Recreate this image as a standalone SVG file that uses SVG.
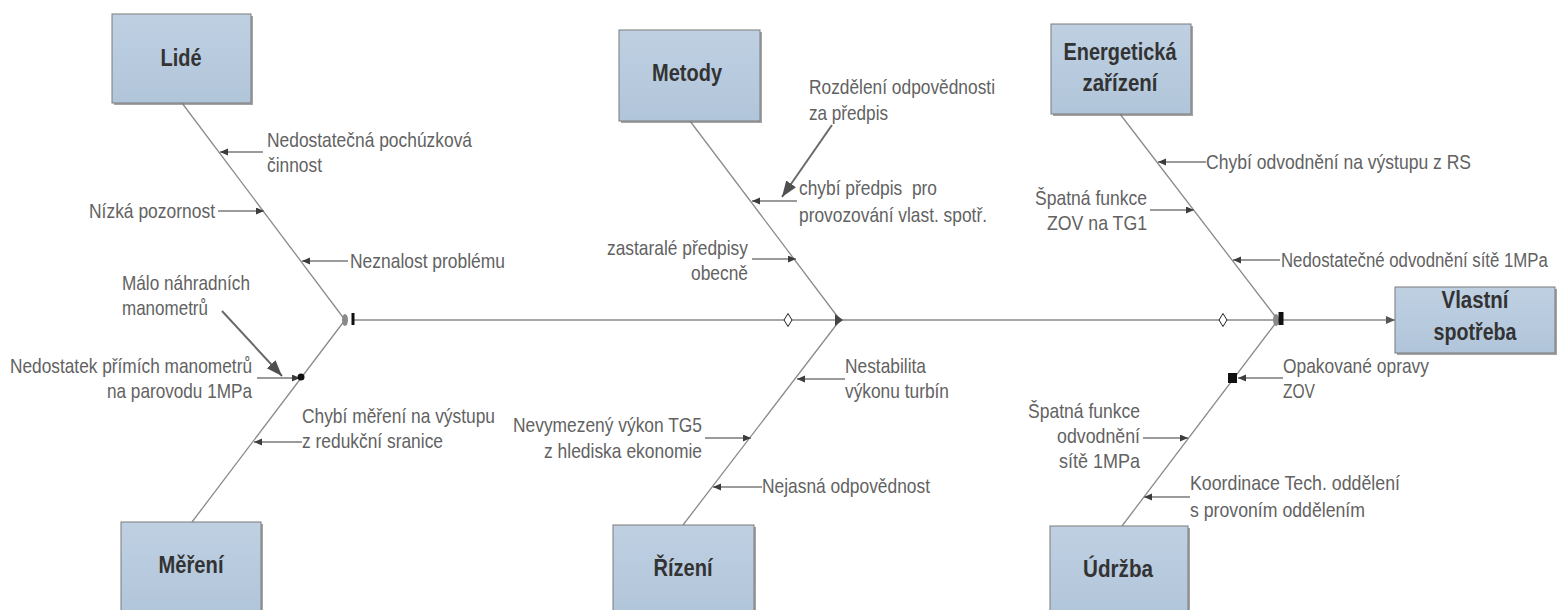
<svg xmlns="http://www.w3.org/2000/svg" width="1563" height="610" viewBox="0 0 1563 610">
<defs>
<linearGradient id="bg" x1="0" y1="0" x2="0" y2="1">
<stop offset="0" stop-color="#bfd0e2"/>
<stop offset="1" stop-color="#b1c5da"/>
</linearGradient>
<marker id="ah" markerUnits="userSpaceOnUse" markerWidth="9" markerHeight="8" refX="8" refY="3.5" orient="auto">
<path d="M0,0 L8,3.5 L0,7 z" fill="#3c3c3c"/>
</marker>
<marker id="big" markerUnits="userSpaceOnUse" markerWidth="18" markerHeight="14" refX="16" refY="6" orient="auto">
<path d="M0,0 L16,6 L0,12 z" fill="#505050"/>
</marker>
<marker id="main" markerUnits="userSpaceOnUse" markerWidth="10" markerHeight="9" refX="9" refY="4" orient="auto">
<path d="M0,0 L9,4 L0,8 z" fill="#555"/>
</marker>
</defs>
<style>
.box{fill:url(#bg);stroke:#7a7a7a;stroke-width:1}
.sh{fill:#7d7d7d;opacity:0.7}
.bt{font-family:"Liberation Sans Narrow","Liberation Sans",Arial,sans-serif;font-weight:bold;font-size:24px;fill:#333;text-anchor:middle}
.lt{font-family:"Liberation Sans Narrow","Liberation Sans",Arial,sans-serif;font-size:21px;fill:#626262;white-space:pre}
.spine{stroke:#8a8a8a;stroke-width:1.3;fill:none}
.sub{stroke:#7a7a7a;stroke-width:1.4;fill:none;marker-end:url(#ah)}
.bigl{stroke:#6a6a6a;stroke-width:2;fill:none;marker-end:url(#big)}
</style>
<rect width="1563" height="610" fill="#fff"/>

<g id="connectors">
<line class="spine" x1="353" y1="320" x2="1395" y2="320" marker-end="url(#main)"/>
<line class="spine" x1="182" y1="103" x2="345" y2="320"/>
<line class="spine" x1="192" y1="522" x2="345" y2="320"/>
<line class="spine" x1="690" y1="121" x2="840" y2="320"/>
<line class="spine" x1="683" y1="525" x2="840" y2="320"/>
<line class="spine" x1="1120" y1="114" x2="1278" y2="320"/>
<line class="spine" x1="1122" y1="526" x2="1278" y2="320"/>
<!-- junction markers -->
<ellipse cx="345" cy="320" rx="3" ry="6" fill="#8a8a8a"/>
<rect x="351.5" y="313" width="3" height="12" fill="#111"/>
<path d="M788,313.5 L792,320 L788,326.5 L784,320 z" fill="#fff" stroke="#222" stroke-width="1"/>
<path d="M835,314 L843,320 L835,326 z" fill="#444"/>
<path d="M1223,313.5 L1227,320 L1223,326.5 L1219,320 z" fill="#fff" stroke="#222" stroke-width="1"/>
<ellipse cx="1276" cy="320" rx="3" ry="6" fill="#8a8a8a"/>
<rect x="1278.5" y="312" width="5" height="13" fill="#111"/>
<!-- Lidé causes -->
<line class="sub" x1="263" y1="152" x2="220" y2="152"/>
<line class="sub" x1="218" y1="211" x2="264" y2="211"/>
<line class="sub" x1="348" y1="261" x2="302" y2="261"/>
<line class="bigl" x1="222" y1="311" x2="282" y2="376"/>
<line class="sub" x1="257" y1="378" x2="300" y2="378"/>
<circle cx="301" cy="377" r="3.5" fill="#111"/>
<line class="sub" x1="302" y1="442" x2="254" y2="442"/>
<!-- Metody causes -->
<line class="bigl" x1="832" y1="125" x2="782" y2="197"/>
<line class="sub" x1="797" y1="201" x2="752" y2="201"/>
<line class="sub" x1="752" y1="259" x2="796" y2="259"/>
<!-- Řízení causes -->
<line class="sub" x1="845" y1="379" x2="797" y2="379"/>
<line class="sub" x1="705" y1="438" x2="751" y2="438"/>
<line class="sub" x1="762" y1="487" x2="713" y2="487"/>
<!-- Energetická causes -->
<line class="sub" x1="1206" y1="162" x2="1158" y2="162"/>
<line class="sub" x1="1150" y1="210" x2="1194" y2="210"/>
<line class="sub" x1="1280" y1="260" x2="1233" y2="260"/>
<!-- Údržba causes -->
<line class="sub" x1="1283" y1="378" x2="1238" y2="378"/>
<rect x="1228" y="373" width="9" height="10" fill="#111"/>
<line class="sub" x1="1143" y1="438" x2="1188" y2="438"/>
<line class="sub" x1="1190" y1="497" x2="1144" y2="497"/>
</g>

<g id="node-lide">
<rect class="sh" x="114" y="16" width="139" height="89"/>
<rect class="box" x="112" y="14" width="139" height="89"/>
<text class="bt" x="181" y="66" textLength="41" lengthAdjust="spacingAndGlyphs">Lidé</text>
</g>
<g id="node-mereni">
<rect class="sh" x="123" y="524" width="140" height="92"/>
<rect class="box" x="121" y="522" width="140" height="92"/>
<text class="bt" x="191" y="573" textLength="65" lengthAdjust="spacingAndGlyphs">Měření</text>
</g>
<g id="node-metody">
<rect class="sh" x="621" y="32" width="141" height="91"/>
<rect class="box" x="619" y="30" width="141" height="91"/>
<text class="bt" x="687" y="81" textLength="70" lengthAdjust="spacingAndGlyphs">Metody</text>
</g>
<g id="node-rizeni">
<rect class="sh" x="615" y="527" width="141" height="90"/>
<rect class="box" x="613" y="525" width="141" height="90"/>
<text class="bt" x="683" y="576" textLength="59" lengthAdjust="spacingAndGlyphs">Řízení</text>
</g>
<g id="node-energeticka">
<rect class="sh" x="1053" y="26" width="140" height="90"/>
<rect class="box" x="1051" y="24" width="140" height="90"/>
<text class="bt" x="1120" y="60" textLength="113" lengthAdjust="spacingAndGlyphs">Energetická</text>
<text class="bt" x="1120" y="91" textLength="75" lengthAdjust="spacingAndGlyphs">zařízení</text>
</g>
<g id="node-udrzba">
<rect class="sh" x="1052" y="528" width="138" height="90"/>
<rect class="box" x="1050" y="526" width="138" height="90"/>
<text class="bt" x="1118" y="577" textLength="70" lengthAdjust="spacingAndGlyphs">Údržba</text>
</g>
<g id="node-vlastni">
<rect class="sh" x="1397" y="289" width="160" height="66"/>
<rect class="box" x="1395" y="287" width="160" height="66"/>
<text class="bt" x="1475" y="308" textLength="67" lengthAdjust="spacingAndGlyphs">Vlastní</text>
<text class="bt" x="1475" y="340" textLength="83" lengthAdjust="spacingAndGlyphs">spotřeba</text>
</g>

<g id="labels-lide">
<text class="lt" x="267" y="147" textLength="205" lengthAdjust="spacingAndGlyphs">Nedostatečná pochúzková</text>
<text class="lt" x="267" y="172" textLength="55" lengthAdjust="spacingAndGlyphs">činnost</text>
<text class="lt" x="89" y="218" textLength="126" lengthAdjust="spacingAndGlyphs">Nízká pozornost</text>
<text class="lt" x="350" y="268" textLength="155" lengthAdjust="spacingAndGlyphs">Neznalost problému</text>
</g>
<g id="labels-mereni">
<text class="lt" x="122" y="290" textLength="128" lengthAdjust="spacingAndGlyphs">Málo náhradních</text>
<text class="lt" x="122" y="315" textLength="86" lengthAdjust="spacingAndGlyphs">manometrů</text>
<text class="lt" x="10" y="373" textLength="242" lengthAdjust="spacingAndGlyphs">Nedostatek přímích manometrů</text>
<text class="lt" x="107" y="398" textLength="145" lengthAdjust="spacingAndGlyphs">na parovodu 1MPa</text>
<text class="lt" x="302" y="423" textLength="193" lengthAdjust="spacingAndGlyphs">Chybí měření na výstupu</text>
<text class="lt" x="302" y="448" textLength="141" lengthAdjust="spacingAndGlyphs">z redukční sranice</text>
</g>
<g id="labels-metody">
<text class="lt" x="809" y="94" textLength="186" lengthAdjust="spacingAndGlyphs">Rozdělení odpovědnosti</text>
<text class="lt" x="809" y="120" textLength="79" lengthAdjust="spacingAndGlyphs">za předpis</text>
<text class="lt" x="799" y="195" textLength="138" lengthAdjust="spacingAndGlyphs">chybí předpis  pro</text>
<text class="lt" x="799" y="222" textLength="188" lengthAdjust="spacingAndGlyphs">provozování vlast. spotř.</text>
<text class="lt" x="607" y="255" textLength="141" lengthAdjust="spacingAndGlyphs">zastaralé předpisy</text>
<text class="lt" x="691" y="280" textLength="57" lengthAdjust="spacingAndGlyphs">obecně</text>
</g>
<g id="labels-rizeni">
<text class="lt" x="845" y="373" textLength="81" lengthAdjust="spacingAndGlyphs">Nestabilita</text>
<text class="lt" x="845" y="398" textLength="104" lengthAdjust="spacingAndGlyphs">výkonu turbín</text>
<text class="lt" x="513" y="432" textLength="189" lengthAdjust="spacingAndGlyphs">Nevymezený výkon TG5</text>
<text class="lt" x="544" y="458" textLength="158" lengthAdjust="spacingAndGlyphs">z hlediska ekonomie</text>
<text class="lt" x="762" y="493" textLength="168" lengthAdjust="spacingAndGlyphs">Nejasná odpovědnost</text>
</g>
<g id="labels-energeticka">
<text class="lt" x="1206" y="169" textLength="265" lengthAdjust="spacingAndGlyphs">Chybí odvodnění na výstupu z RS</text>
<text class="lt" x="1035" y="205" textLength="112" lengthAdjust="spacingAndGlyphs">Špatná funkce</text>
<text class="lt" x="1047" y="230" textLength="100" lengthAdjust="spacingAndGlyphs">ZOV na TG1</text>
<text class="lt" transform="translate(1281,267) scale(0.8,1)" x="0" y="0">Nedostatečné odvodnění sítě 1MPa</text>
</g>
<g id="labels-udrzba">
<text class="lt" x="1283" y="373" textLength="146" lengthAdjust="spacingAndGlyphs">Opakované opravy</text>
<text class="lt" x="1283" y="398" textLength="32" lengthAdjust="spacingAndGlyphs">ZOV</text>
<text class="lt" x="1028" y="418" textLength="112" lengthAdjust="spacingAndGlyphs">Špatná funkce</text>
<text class="lt" x="1057" y="443" textLength="83" lengthAdjust="spacingAndGlyphs">odvodnění</text>
<text class="lt" x="1059" y="468" textLength="81" lengthAdjust="spacingAndGlyphs">sítě 1MPa</text>
<text class="lt" x="1190" y="490" textLength="210" lengthAdjust="spacingAndGlyphs">Koordinace Tech. oddělení</text>
<text class="lt" x="1190" y="517" textLength="175" lengthAdjust="spacingAndGlyphs">s provoním oddělením</text>
</g>
</svg>
